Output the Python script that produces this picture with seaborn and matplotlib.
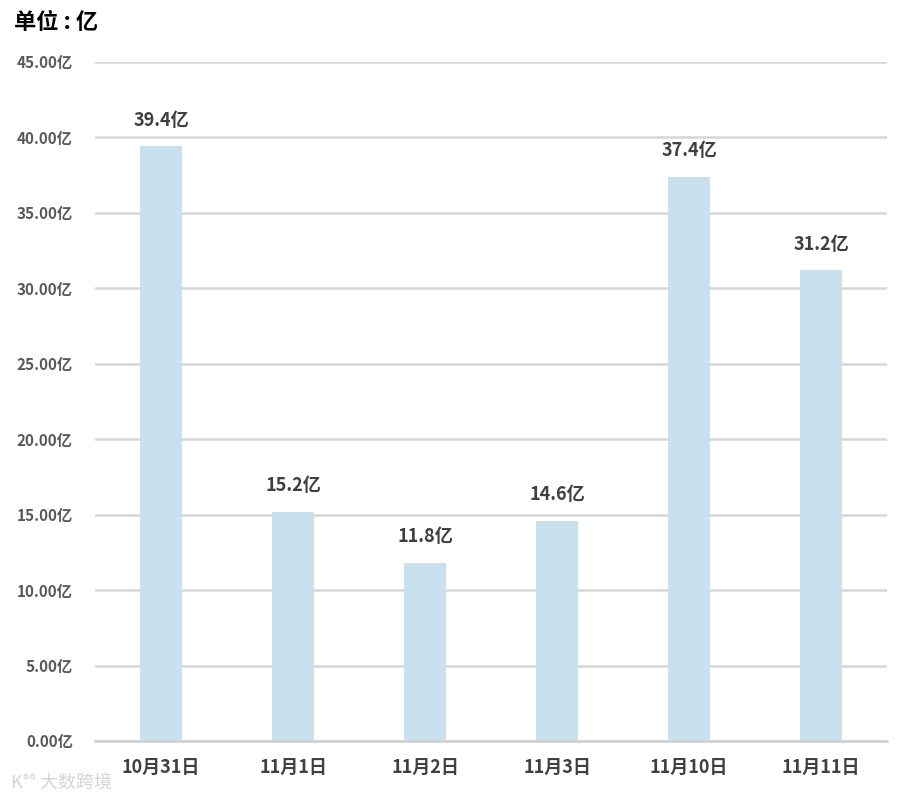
import numpy as np
import pandas as pd
import matplotlib
matplotlib.use("Agg")
import matplotlib.pyplot as plt
import seaborn as sns

dates = ["10月31日", "11月1日", "11月2日", "11月3日", "11月10日", "11月11日"]
sales = [39.4, 15.2, 11.8, 14.6, 37.4, 31.2]
y_ticks = [0, 5, 10, 15, 20, 25, 30, 35, 40, 45]

sns.set_style("white")
plt.rcParams['font.family'] = ['Noto Sans CJK SC', 'DejaVu Sans']

df = pd.DataFrame({"date": dates, "sales": sales})

fig = plt.figure(figsize=(9.1, 8), dpi=100)
ax = fig.add_axes([0.1044, 0.07375, 0.8703, 0.84875])

sns.barplot(data=df, x="date", y="sales", color="#C9E1EE", width=0.32,
            saturation=1, linewidth=0, ax=ax)

ax.set_ylim(0, 45)
ax.set_xlim(-0.5, len(dates) - 0.5)
ax.set_yticks(y_ticks)
ax.set_yticklabels([f"{v:.2f}亿" for v in y_ticks], fontsize=11,
                   fontweight="bold", color="#595959")
ax.set_xticks(range(len(dates)))
ax.set_xticklabels(dates, fontsize=13, fontweight="bold", color="#404040")
ax.tick_params(axis="x", length=0, pad=12)
ax.tick_params(axis="y", length=0, pad=16)

# boundary ticks between categories
ax.set_xticks(np.arange(-0.5, len(dates), 1.0), minor=True)
ax.tick_params(axis="x", which="minor", length=5, color="#D0D0D0", width=1.2)

ax.yaxis.grid(True, color="#D6D6D6", linewidth=1.8)
ax.set_axisbelow(True)
for s in ["top", "right", "left"]:
    ax.spines[s].set_visible(False)
ax.spines["bottom"].set_color("#D0D0D0")
ax.spines["bottom"].set_linewidth(1.8)
ax.set_xlabel("")
ax.set_ylabel("")

for i, v in enumerate(sales):
    ax.text(i, v + 1.1, f"{v}亿", ha="center", va="bottom", fontsize=13,
            fontweight="bold", color="#404040")

fig.text(0.015, 0.972, "单位 : 亿", fontsize=16, fontweight="bold",
         color="black", ha="left", va="center")
fig.text(0.012, 0.022, "K°° 大数跨境", fontsize=13, color="#D5D5D5",
         ha="left", va="center")

fig.savefig("out.png", dpi=100)
